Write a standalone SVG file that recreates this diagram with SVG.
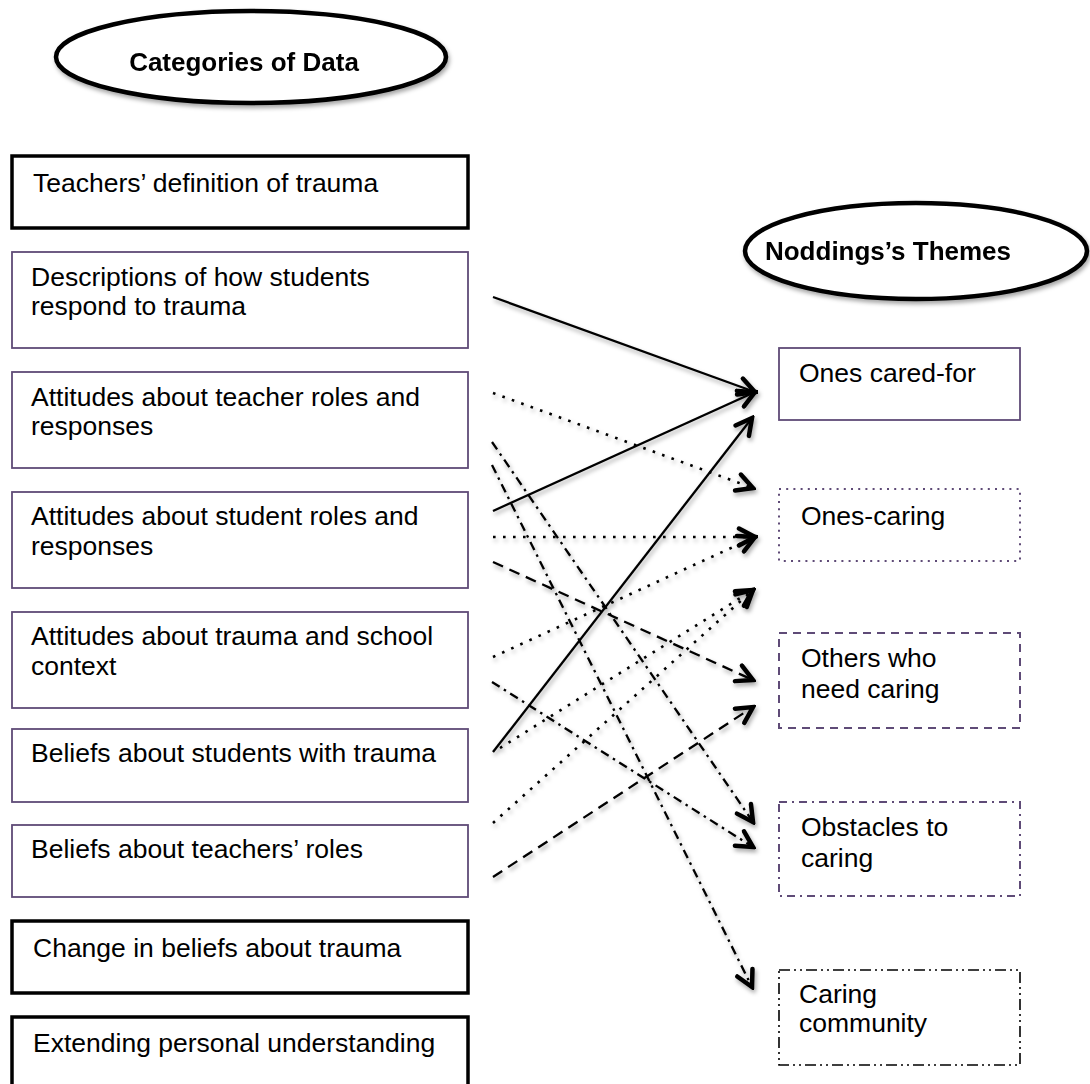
<svg xmlns="http://www.w3.org/2000/svg" width="1090" height="1084" viewBox="0 0 1090 1084">
<style>
text{font-family:"Liberation Sans",Arial,sans-serif;fill:#000}
.t{font-size:26.5px}
.h{font-size:26px;font-weight:bold}
.thick{fill:#fff;stroke:#000;stroke-width:3.5}
.thin{fill:#fff;stroke:#5f4b77;stroke-width:1.8}
.ell{fill:#fff;stroke:#000;stroke-width:4.5}
.c{fill:none;stroke:#000;stroke-width:2.3;marker-end:url(#ah)}
.dot{stroke-dasharray:2.6 7.4;stroke-width:2.6}
.dash{stroke-dasharray:11 7}
.dd{stroke-dasharray:9 5 2.5 5}
</style>
<defs>
<filter id="sh" x="-20%" y="-20%" width="140%" height="140%">
<feDropShadow dx="1.5" dy="3" stdDeviation="2" flood-color="#000" flood-opacity="0.35"/>
</filter>
<marker id="ah" viewBox="0 0 22 22" refX="19" refY="11" markerWidth="22" markerHeight="22" markerUnits="userSpaceOnUse" orient="auto">
<path d="M3,2.5 L19,11 L3,19.5" fill="none" stroke="#000" stroke-width="4.5" stroke-linecap="round" stroke-linejoin="miter"/>
</marker>
</defs>
<rect width="1090" height="1084" fill="#fff"/>

<g id="title-categories" filter="url(#sh)">
<ellipse class="ell" cx="251" cy="57" rx="195" ry="46"/>
<text class="h" x="244" y="71" text-anchor="middle">Categories of Data</text>
</g>
<g id="title-noddings" filter="url(#sh)">
<ellipse class="ell" cx="916" cy="251" rx="171" ry="48"/>
<text class="h" x="888" y="260" text-anchor="middle">Noddings’s Themes</text>
</g>

<g id="cat-definition"><rect class="thick" x="12" y="156" width="456" height="72"/><text class="t" x="33" y="192">Teachers’ definition of trauma</text></g>
<g id="cat-descriptions"><rect class="thin" x="12" y="252" width="456" height="96"/><text class="t" x="31" y="286">Descriptions of how students</text><text class="t" x="31" y="315">respond to trauma</text></g>
<g id="cat-teacher-roles"><rect class="thin" x="12" y="372" width="456" height="96"/><text class="t" x="31" y="406">Attitudes about teacher roles and</text><text class="t" x="31" y="435">responses</text></g>
<g id="cat-student-roles"><rect class="thin" x="12" y="492" width="456" height="96"/><text class="t" x="31" y="525">Attitudes about student roles and</text><text class="t" x="31" y="555">responses</text></g>
<g id="cat-school-context"><rect class="thin" x="12" y="612" width="456" height="96"/><text class="t" x="31" y="645">Attitudes about trauma and school</text><text class="t" x="31" y="675">context</text></g>
<g id="cat-beliefs-students"><rect class="thin" x="12" y="729" width="456" height="73"/><text class="t" x="31" y="762">Beliefs about students with trauma</text></g>
<g id="cat-beliefs-teachers"><rect class="thin" x="12" y="825" width="456" height="72"/><text class="t" x="31" y="858">Beliefs about teachers’ roles</text></g>
<g id="cat-change"><rect class="thick" x="12" y="921" width="456" height="72"/><text class="t" x="33" y="957">Change in beliefs about trauma</text></g>
<g id="cat-extending"><rect class="thick" x="12" y="1017" width="456" height="80"/><text class="t" x="33" y="1052">Extending personal understanding</text></g>

<g id="theme-cared-for"><rect class="thin" x="779" y="348" width="241" height="72"/><text class="t" x="799" y="382">Ones cared-for</text></g>
<g id="theme-ones-caring"><rect fill="#fff" stroke="#5f4b77" stroke-width="2" stroke-dasharray="2 5.2" x="779" y="489" width="241" height="72"/><text class="t" x="801" y="525">Ones-caring</text></g>
<g id="theme-others"><rect fill="#fff" stroke="#5f4b77" stroke-width="2" stroke-dasharray="8 6" x="779" y="633" width="241" height="95"/><text class="t" x="801" y="667">Others who</text><text class="t" x="801" y="698">need caring</text></g>
<g id="theme-obstacles"><rect fill="#fff" stroke="#5f4b77" stroke-width="2" stroke-dasharray="8 5 2 5" x="779" y="802" width="241" height="94"/><text class="t" x="801" y="836">Obstacles to</text><text class="t" x="801" y="867">caring</text></g>
<g id="theme-community"><rect fill="#fff" stroke="#000" stroke-width="1.6" stroke-dasharray="11 4 2 4 2 4" x="779" y="970" width="241" height="95"/><text class="t" x="799" y="1003">Caring</text><text class="t" x="799" y="1032">community</text></g>

<g id="connectors" filter="url(#sh)">
<path class="c" d="M493,297 L755,392"/>
<path class="c" d="M493,511 L755,392"/>
<path class="c" d="M493,752 L752,418"/>
<path class="c dot" d="M493,393 L753,488"/>
<path class="c dot" d="M493,537 L755,537"/>
<path class="c dot" d="M493,657 L755,537"/>
<path class="c dot" d="M500,748 L753,590"/>
<path class="c dot" d="M493,823 L753,590"/>
<path class="c dash" d="M493,562 L753,680"/>
<path class="c dash" d="M493,877 L753,707"/>
<path class="c dd" d="M492,442 L753,822"/>
<path class="c dd" d="M492,465 L752,987"/>
<path class="c dd" d="M492,682 L753,847"/>
</g>
</svg>
